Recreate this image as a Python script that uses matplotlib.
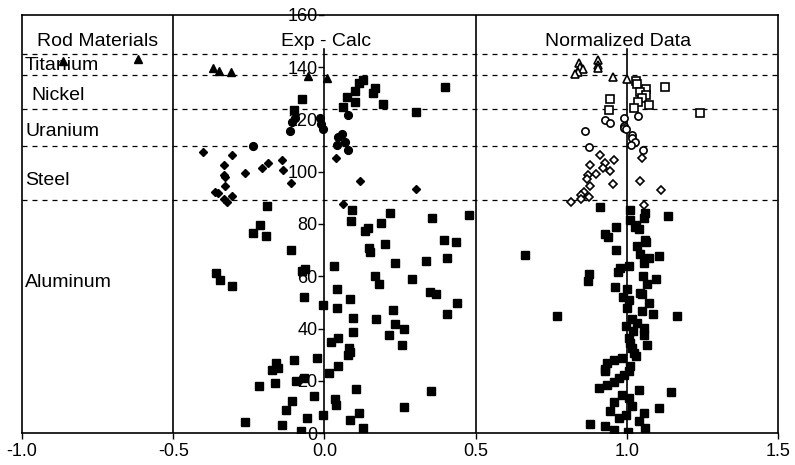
import matplotlib
matplotlib.use("Agg")
import matplotlib.pyplot as plt

plt.rcParams['font.family'] = ['Liberation Sans', 'DejaVu Sans']

# ---------------- data ----------------
# Exp - Calc panel (filled markers)
ec_ti_x = [-0.864, -0.616, -0.370, -0.349, -0.310, -0.055, 0.008]
ec_ti_y = [142.3, 143.0, 139.9, 138.7, 138.0, 136.7, 135.8]

ec_ni_x = [-0.073, -0.099, 0.060, 0.074, 0.102, 0.102, 0.115, 0.129, 0.168, 0.162, 0.195, 0.302, 0.400]
ec_ni_y = [127.8, 123.8, 124.9, 128.7, 130.9, 126.8, 133.8, 135.1, 131.9, 130.0, 125.8, 122.7, 132.6]

ec_u_x = [-0.108, -0.097, -0.113, -0.014, -0.011, -0.003, 0.077, 0.057, 0.046, 0.041, 0.068, 0.077, -0.235]
ec_u_y = [119.1, 120.4, 115.5, 120.4, 118.1, 116.5, 121.7, 114.6, 113.3, 110.4, 111.4, 108.5, 109.7]

ec_st_x = [-0.400, -0.305, -0.331, -0.331, -0.329, -0.329, -0.362, -0.351, -0.305, -0.331, -0.323,
           -0.263, -0.208, -0.188, -0.139, -0.136, -0.111, 0.038, 0.119, 0.304, 0.060]
ec_st_y = [107.6, 106.5, 102.7, 98.6, 98.0, 94.7, 92.4, 91.8, 90.9, 89.6, 88.6,
           99.6, 101.5, 103.5, 104.6, 100.5, 95.8, 105.4, 96.4, 93.3, 87.7]

ec_al_x = [-0.191, 0.091, 0.088, 0.216, 0.477, 0.355, -0.213, -0.237, -0.194, 0.188, 0.135, 0.143,
           0.397, 0.435, -0.110, 0.146, 0.152, 0.199, 0.234, 0.336, 0.405, 0.031, -0.064, -0.075,
           -0.359, -0.345, -0.307, 0.166, 0.181, 0.289, 0.041, 0.085, -0.066, -0.006, 0.041, 0.350,
           0.370, 0.440, 0.226, 0.406, 0.096, 0.170,
           0.232, 0.263, 0.212, 0.258, 0.093, 0.046, 0.022, 0.082, 0.085, 0.077, 0.046, 0.015,
           -0.025, -0.099, -0.161, -0.152, -0.172, -0.216, -0.163, -0.095, -0.066, -0.033, -0.106,
           -0.127, 0.035, 0.037, 0.104, 0.351, 0.263, 0.113, 0.085, -0.006, -0.056, -0.261, -0.141,
           -0.077, 0.127]
ec_al_y = [86.7, 85.5, 81.3, 84.2, 83.5, 82.2, 79.6, 76.4, 75.3, 80.3, 77.4, 78.3,
           74.0, 73.0, 70.1, 71.0, 69.1, 72.2, 65.0, 65.9, 67.0, 64.1, 62.7, 62.0,
           61.4, 58.5, 56.3, 60.1, 57.2, 59.1, 55.3, 51.2, 52.2, 49.1, 48.0, 54.1,
           53.1, 49.9, 46.9, 45.6, 44.1, 43.7,
           41.9, 40.0, 37.7, 33.7, 38.7, 36.4, 34.9, 32.6, 30.9, 30.0, 25.8, 23.0,
           28.7, 27.8, 26.8, 24.9, 24.0, 18.1, 19.1, 20.0, 21.0, 14.2, 12.1,
           8.8, 13.0, 10.8, 16.9, 15.9, 9.9, 7.8, 5.0, 6.9, 5.9, 4.1, 3.1,
           0.9, 1.8]

# Normalized Data panel (open markers, aluminum filled)
nd_ti_x = [0.841, 0.845, 0.856, 0.838, 0.828, 0.905, 0.905, 0.905, 0.953, 1.001]
nd_ti_y = [141.8, 140.2, 139.2, 138.3, 137.4, 142.8, 140.8, 139.8, 136.4, 135.6]

nd_ni_x = [1.031, 1.034, 1.062, 1.045, 1.065, 1.051, 1.037, 1.075, 1.023, 1.126, 0.944, 0.940, 1.241]
nd_ni_y = [134.9, 133.5, 131.7, 130.6, 129.4, 128.3, 126.8, 125.5, 124.5, 132.6, 127.7, 123.6, 122.6]

nd_u_x = [1.038, 0.990, 0.929, 0.946, 0.863, 0.990, 0.992, 0.996, 1.016, 1.018, 1.026, 1.014, 1.053, 0.876]
nd_u_y = [121.4, 120.4, 119.8, 118.5, 115.5, 117.6, 116.8, 116.3, 114.2, 113.0, 111.4, 110.4, 108.5, 109.5]

nd_st_x = [0.910, 0.959, 0.927, 0.877, 0.922, 0.946, 0.899, 0.871, 0.869, 0.877, 0.954, 1.042,
           1.114, 0.858, 0.850, 0.874, 0.847, 0.817, 1.051, 1.056]
nd_st_y = [106.5, 104.6, 103.3, 102.4, 101.5, 100.3, 99.2, 98.6, 97.3, 94.5, 95.4, 96.3,
           93.2, 92.4, 91.2, 90.5, 89.6, 88.3, 105.3, 87.3]

nd_al_x = [0.913, 1.009, 1.060, 1.137, 1.056, 1.012, 1.031, 1.040, 1.026, 0.963, 0.929, 0.938,
           1.060, 1.064, 1.034, 1.045, 0.963, 1.106, 1.075, 1.056, 1.006, 0.979, 0.971, 0.874,
           0.872, 1.053, 1.067, 1.097, 0.960, 1.001, 1.045, 0.987, 1.051, 1.006, 1.073, 1.001,
           1.049, 1.087, 1.167, 0.770, 1.018, 1.034, 0.996, 1.056, 1.020, 1.056, 1.006, 1.067,
           1.012, 1.018, 1.023, 1.029, 1.012, 0.985, 0.957, 0.935, 0.929, 0.927, 1.006, 0.990,
           0.974, 0.957, 0.935, 0.907, 1.040, 1.145, 0.985, 1.006, 0.957, 1.016, 0.946, 1.106,
           1.056, 0.996, 0.974, 1.040, 0.877, 0.929, 1.060, 0.957, 1.004, 0.662]
nd_al_y = [86.4, 85.4, 84.1, 83.2, 82.3, 81.5, 79.7, 78.1, 79.0, 79.0, 76.2, 74.9,
           73.8, 73.0, 71.7, 68.7, 70.0, 67.8, 66.9, 64.9, 64.0, 63.1, 61.8, 61.0,
           58.0, 60.1, 56.9, 58.8, 55.9, 55.0, 53.7, 52.0, 53.1, 50.8, 49.9, 48.0,
           46.7, 45.6, 44.7, 44.7, 43.5, 42.2, 40.9, 40.3, 39.0, 37.7, 36.4, 33.8,
           34.5, 32.6, 30.6, 29.4, 25.5, 28.7, 28.1, 26.8, 24.6, 23.6, 23.6, 22.3,
           21.0, 19.7, 18.5, 17.4, 16.5, 15.6, 14.6, 13.3, 11.8, 10.5, 8.5, 9.7,
           7.6, 6.7, 5.6, 4.6, 3.6, 2.7, 1.8, 1.2, 0.5, 68.1]

boundaries = [145, 137, 124, 110, 89]
material_labels = ["Titanium", "Nickel", "Uranium", "Steel", "Aluminum"]
material_label_y = [140.8, 129.2, 115.4, 96.5, 57.7]
material_label_x = [-0.99, -0.97, -0.99, -0.99, -0.99]
xticks = [-1.0, -0.5, 0.0, 0.5, 1.0, 1.5]
xticklabels = ["-1.0", "-0.5", "0.0", "0.5", "1.0", "1.5"]
yticks = [0, 20, 40, 60, 80, 100, 120, 140, 160]

# ---------------- figure ----------------
fig = plt.figure(figsize=(7.95, 4.65), dpi=100)
ax = fig.add_axes([22/795, 1 - 433/465, (778-22)/795, (433-15)/465])
ax.set_xlim(-1.0, 1.5)
ax.set_ylim(0, 160)

FS = 14
FS_T = 13
lw = 1.2

# frame
for s in ['top', 'right', 'bottom']:
    ax.spines[s].set_linewidth(lw)
ax.spines['left'].set_position(('data', 0))
ax.spines['left'].set_bounds(0, 147)
ax.spines['left'].set_linewidth(lw)
ax.plot([-1.0, -1.0], [0, 160], color='black', lw=lw, clip_on=False, zorder=3)

# vertical separators
ax.plot([-0.5, -0.5], [0, 160], color='black', lw=lw, zorder=1)
ax.plot([0.5, 0.5], [0, 160], color='black', lw=lw, zorder=1)
ax.plot([1.0, 1.0], [0, 147], color='black', lw=lw, zorder=1)

# dashed boundaries
for b in boundaries:
    ax.plot([-1.0, 1.5], [b, b], color='black', lw=0.9, ls=(0, (4, 4)), zorder=1)

# ticks
ax.set_xticks(xticks)
ax.set_xticklabels(xticklabels, fontsize=FS_T)
ax.set_yticks(yticks)
ax.set_yticklabels([str(v) for v in yticks], fontsize=FS_T)
ax.tick_params(axis='x', direction='out', length=4, width=1, pad=3)
ax.tick_params(axis='y', direction='out', length=4, width=1, pad=1)
for lbl in ax.get_yticklabels():
    if lbl.get_text() == "160":
        lbl.set_bbox(dict(facecolor='white', edgecolor='none', pad=1))

# Exp - Calc markers
ms_sq = 5.8
ax.plot(ec_al_x, ec_al_y, 's', color='black', ms=ms_sq, zorder=4)
ax.plot(ec_st_x, ec_st_y, 'D', color='black', ms=4.3, zorder=4)
ax.plot(ec_u_x, ec_u_y, 'o', color='black', ms=5.6, zorder=4)
ax.plot(ec_ni_x, ec_ni_y, 's', color='black', ms=ms_sq, zorder=4)
ax.plot(ec_ti_x, ec_ti_y, '^', color='black', ms=6.0, zorder=4)

# Normalized markers
ax.plot(nd_al_x, nd_al_y, 's', color='black', ms=ms_sq, zorder=4)
ax.plot(nd_st_x, nd_st_y, 'D', mfc='white', mec='black', mew=1.2, ms=4.2, zorder=4)
ax.plot(nd_u_x, nd_u_y, 'o', mfc='white', mec='black', mew=1.2, ms=5.2, zorder=4)
ax.plot(nd_ni_x, nd_ni_y, 's', mfc='white', mec='black', mew=1.2, ms=5.2, zorder=4)
ax.plot(nd_ti_x, nd_ti_y, '^', mfc='white', mec='black', mew=1.2, ms=5.2, zorder=4)

# texts
ax.text(-0.75, 150, "Rod Materials", fontsize=FS, ha='center', va='center')
ax.text(0.005, 150, "Exp - Calc", fontsize=FS, ha='center', va='center')
ax.text(0.97, 150, "Normalized Data", fontsize=FS, ha='center', va='center')
for lx, ly, t in zip(material_label_x, material_label_y, material_labels):
    ax.text(lx, ly, t, fontsize=FS, ha='left', va='center')

fig.savefig("out.png", dpi=100)
